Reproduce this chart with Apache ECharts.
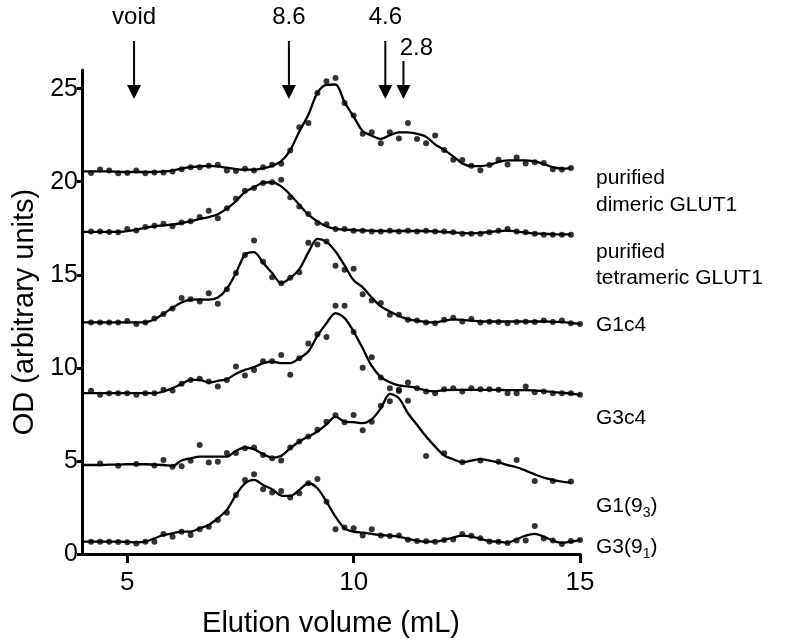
<!DOCTYPE html>
<html><head><meta charset="utf-8">
<script src="https://cdn.jsdelivr.net/npm/echarts@6/dist/echarts.min.js"></script>
<style>html,body{margin:0;padding:0;background:#fff}#c{width:798px;height:644px}</style>
</head><body><div id="c"></div>
<script>
// ---------- data ----------
const elution = [4.0,4.2,4.4,4.6,4.8,5.0,5.2,5.4,5.6,5.8,6.0,6.2,6.4,6.6,6.8,7.0,7.2,7.4,7.6,7.8,8.0,
  8.2,8.4,8.6,8.8,9.0,9.2,9.4,9.6,9.8,10.0,10.2,10.4,10.6,10.8,11.0,11.2,11.4,11.6,11.8,12.0,
  12.2,12.4,12.6,12.8,13.0,13.2,13.4,13.6,13.8,14.0,14.2,14.4,14.6,14.8,15.0];

const dimericDots = [null,20.47,20.65,20.6,20.45,20.47,20.6,20.45,20.5,20.5,20.55,
  20.67,20.78,20.78,20.86,20.91,20.6,20.57,20.7,20.6,20.78,
  20.91,20.97,21.67,22.92,23.15,24.77,25.39,25.57,24.23,23.55,
  22.58,22.65,22.06,22.65,22.32,23.15,22.3,22.06,22.48,21.7,
  21.18,21.16,20.86,20.61,20.9,21.18,20.93,21.3,20.98,21.05,
  21.0,20.67,20.65,20.73];
const dimericLine = [20.55,20.55,20.55,20.55,20.53,20.52,20.52,20.52,20.52,20.55,20.6,
  20.7,20.78,20.83,20.85,20.82,20.75,20.68,20.65,20.65,20.72,
  20.85,21.1,21.7,22.7,23.6,24.77,25.2,25.22,24.27,23.5,
  22.72,22.47,22.3,22.5,22.65,22.65,22.57,22.42,22.0,21.71,
  21.36,20.98,20.84,20.84,20.91,21.06,21.14,21.15,21.14,21.09,
  20.95,20.78,20.7,20.73];

const tetramericDots = [null,17.33,17.33,17.3,17.28,17.46,17.38,17.56,17.63,17.74,17.6,
  17.81,17.87,18.1,18.44,18.03,18.58,19.09,19.52,19.66,19.93,
  19.97,20.1,19.16,18.67,18.26,17.78,17.72,17.46,17.46,17.37,
  17.37,17.33,17.33,17.37,17.33,17.37,17.33,17.37,17.33,17.33,
  17.28,17.2,17.2,17.2,17.28,17.37,17.46,17.33,17.28,17.2,
  17.15,17.15,17.15,17.15];
const tetramericLine = [17.3,17.3,17.3,17.3,17.3,17.35,17.42,17.52,17.6,17.65,17.7,
  17.78,17.88,18.0,18.1,18.25,18.55,18.95,19.45,19.7,19.95,
  19.97,19.75,19.3,18.76,18.23,17.87,17.6,17.46,17.42,17.4,
  17.38,17.36,17.35,17.35,17.35,17.35,17.35,17.35,17.33,17.3,
  17.27,17.24,17.23,17.25,17.3,17.35,17.37,17.32,17.27,17.22,
  17.2,17.18,17.17,17.17];

const g1c4Dots = [null,12.44,12.44,12.44,12.44,12.51,12.35,12.44,12.65,12.89,13.19,
  13.75,13.68,13.56,14.01,13.44,14.22,15.09,16.06,16.84,15.7,
  14.87,14.55,14.84,15.13,16.72,16.63,16.79,15.49,15.27,15.32,
  13.96,13.62,13.48,12.85,12.85,12.58,12.54,12.44,12.4,12.58,
  12.69,12.49,12.62,12.44,12.47,12.46,12.4,12.46,12.47,12.46,
  12.54,12.46,12.54,12.4,12.35];
const g1c4Line = [12.44,12.44,12.44,12.44,12.44,12.44,12.44,12.45,12.61,12.9,13.23,
  13.51,13.66,13.68,13.66,13.78,14.25,15.09,16.08,16.22,15.65,
  15.09,14.55,14.83,15.3,16.2,16.93,16.77,16.25,15.5,14.7,
  14.33,13.78,13.3,13.03,12.8,12.6,12.53,12.46,12.44,12.53,
  12.6,12.58,12.54,12.5,12.49,12.49,12.49,12.49,12.49,12.49,
  12.49,12.47,12.46,12.42,12.35];

const g3c4Dots = [null,8.77,8.55,8.64,8.64,8.64,8.55,8.64,8.64,8.82,8.78,
  9.14,9.35,9.41,9.26,9.0,9.35,10.07,9.59,9.89,10.36,
  10.36,10.69,9.63,10.52,11.31,11.8,11.66,13.33,13.33,11.93,
  10.0,10.57,9.48,8.91,8.82,9.21,8.91,8.73,8.64,8.85,
  8.91,8.73,8.91,8.85,8.85,8.82,8.64,8.64,9.0,8.69,
  8.73,8.64,8.64,8.64,8.55];
const g3c4Line = [8.64,8.64,8.64,8.64,8.64,8.64,8.64,8.64,8.64,8.73,8.91,
  9.14,9.35,9.35,9.21,9.3,9.39,9.68,9.89,10.04,10.25,
  10.34,10.25,10.25,10.52,10.88,11.72,12.4,12.94,12.67,11.95,
  11.05,10.1,9.5,9.23,9.06,9.0,8.91,8.78,8.74,8.8,
  8.82,8.82,8.82,8.82,8.82,8.82,8.8,8.8,8.8,8.78,
  8.75,8.7,8.66,8.62,8.55];

const g1n93Dots = [null,null,4.86,null,4.74,null,4.84,null,4.76,5.05,4.69,
  4.72,5.01,5.86,4.91,4.95,5.43,5.43,5.68,5.72,5.32,
  5.14,5.02,5.72,6.04,6.31,6.68,7.11,7.45,7.08,7.47,
  6.65,7.11,7.96,8.21,8.76,8.23,null,5.27,null,5.41,
  null,4.93,null,5.02,null,4.96,null,5.05,null,3.92,
  null,3.92,null,3.89];
const g1n93Line = [4.78,4.78,4.78,4.8,4.8,4.82,4.82,4.82,4.8,4.78,4.73,
  5.02,5.14,5.23,5.23,5.23,5.23,5.54,5.72,5.63,5.36,
  5.18,5.27,5.68,6.04,6.31,6.58,6.97,7.38,7.11,7.08,
  7.03,7.24,7.83,8.6,8.37,7.56,6.94,6.31,5.77,5.29,
  5.09,4.92,5.02,5.1,5.02,4.92,4.78,4.66,4.48,4.28,
  4.1,3.98,3.89,3.83];

const g3n91Dots = [null,0.66,0.66,0.66,0.64,0.63,0.57,0.66,0.66,1.08,0.93,
  1.2,1.02,1.33,1.47,1.83,2.22,3.17,3.98,4.28,3.48,
  3.31,3.38,3.03,3.26,3.8,4.03,2.81,1.33,1.42,1.38,
  0.99,1.33,0.99,0.97,1.0,0.77,0.7,0.68,0.66,0.75,
  0.78,1.07,0.98,0.84,0.67,0.66,0.59,0.72,0.73,1.51,
  0.83,0.72,0.54,0.7,0.75];
const g3n91Line = [0.66,0.66,0.66,0.66,0.66,0.65,0.62,0.66,0.84,1.02,1.11,
  1.2,1.2,1.38,1.56,1.92,2.37,3.17,3.8,3.98,3.71,
  3.48,3.14,3.12,3.44,3.8,3.53,2.81,2.0,1.38,1.2,
  1.15,1.08,1.02,0.99,0.93,0.81,0.72,0.66,0.66,0.75,
  0.88,0.99,0.93,0.81,0.69,0.66,0.6,0.79,0.99,1.08,
  0.93,0.72,0.6,0.66,0.75];

const traceNames = ['purified dimeric GLUT1','purified tetrameric GLUT1','G1c4','G3c4','G1(9_3)','G3(9_1)'];
const xTicks = [5, 10, 15];
const yTicks = [0, 5, 10, 15, 20, 25];
const markerVolumes = [5.15, 8.57, 10.7, 11.1];
const markerLabels = ['void', '8.6', '4.6', '2.8'];

// ---------- chart ----------
const FONT = '"Liberation Sans", Arial, Helvetica, sans-serif';
const traces = [
  [dimericDots, dimericLine], [tetramericDots, tetramericLine],
  [g1c4Dots, g1c4Line], [g3c4Dots, g3c4Line],
  [g1n93Dots, g1n93Line], [g3n91Dots, g3n91Line]
];
function toPairs(vals) {
  return vals.map((v, i) => [elution[i], v]).filter(p => p[1] !== null);
}
const series = [];
traces.forEach((t, k) => {
  series.push({
    name: traceNames[k] + ' fit', type: 'line', data: toPairs(t[1]),
    showSymbol: false, smooth: 0.3, silent: true,
    lineStyle: { color: '#000', width: 2.3 }, z: 2
  });
  series.push({
    name: traceNames[k], type: 'scatter', data: toPairs(t[0]),
    symbol: 'circle', symbolSize: 6, itemStyle: { color: '#000' }, z: 3, silent: true
  });
});

const chart = echarts.init(document.getElementById('c'));
chart.setOption({
  animation: false,
  backgroundColor: '#fff',
  grid: { left: 82, right: 218, top: 70, bottom: 90, containLabel: false },
  xAxis: {
    type: 'value', min: 4, max: 15,
    name: 'Elution volume (mL)', nameLocation: 'middle', nameGap: 55,
    nameTextStyle: { fontFamily: FONT, fontSize: 29, color: '#000' },
    axisLine: { lineStyle: { color: '#000', width: 3 } },
    axisTick: { customValues: xTicks, length: 9, lineStyle: { color: '#000', width: 3 } },
    axisLabel: { customValues: xTicks, fontFamily: FONT, fontSize: 26, color: '#000', margin: 16 },
    splitLine: { show: false }
  },
  yAxis: {
    type: 'value', min: 0, max: 26,
    name: 'OD (arbitrary units)', nameLocation: 'middle', nameGap: 40,
    nameTextStyle: { fontFamily: FONT, fontSize: 29, color: '#000' },
    axisLine: { show: true, lineStyle: { color: '#000', width: 3 } },
    axisTick: { show: true, customValues: yTicks, length: 5, lineStyle: { color: '#000', width: 3 } },
    axisLabel: { customValues: yTicks, fontFamily: FONT, fontSize: 25, color: '#000', margin: 4 },
    splitLine: { show: false }
  },
  series: series
});

// ---------- annotations ----------
const graphics = [];
const tipY = 99, headH = 14, headW = 7;
markerVolumes.forEach((v, i) => {
  const px = chart.convertToPixel({ gridIndex: 0 }, [v, 0])[0];
  const topY = i === 3 ? 61 : 41;
  graphics.push({ type: 'line', silent: true,
    shape: { x1: px, y1: topY, x2: px, y2: tipY - headH + 2 },
    style: { stroke: '#000', lineWidth: 2 } });
  graphics.push({ type: 'polygon', silent: true,
    shape: { points: [[px - headW, tipY - headH], [px + headW, tipY - headH], [px, tipY]] },
    style: { fill: '#000' } });
  const isLast = i === 3;
  graphics.push({ type: 'text', silent: true,
    x: isLast ? px + 13 : px, y: isLast ? 48 : 17,
    style: { text: markerLabels[i], fontFamily: FONT, fontSize: 24, fill: '#000',
      align: 'center', verticalAlign: 'middle' } });
});

const labelLines = [
  { text: 'purified', y: 178 }, { text: 'dimeric GLUT1', y: 205 },
  { text: 'purified', y: 252 }, { text: 'tetrameric GLUT1', y: 278 },
  { text: 'G1c4', y: 325 }, { text: 'G3c4', y: 418 },
  { text: 'G1(9{s|3})', y: 506 }, { text: 'G3(9{s|1})', y: 547 }
];
labelLines.forEach(l => {
  graphics.push({ type: 'text', silent: true, x: 596, y: l.y,
    style: { text: l.text, fontFamily: FONT, fontSize: 21, fill: '#000',
      align: 'left', verticalAlign: 'middle',
      rich: { s: { fontFamily: FONT, fontSize: 14, fill: '#000', padding: [14, 0, 0, 0] } } } });
});
chart.setOption({ graphic: graphics });
</script>
</body></html>
